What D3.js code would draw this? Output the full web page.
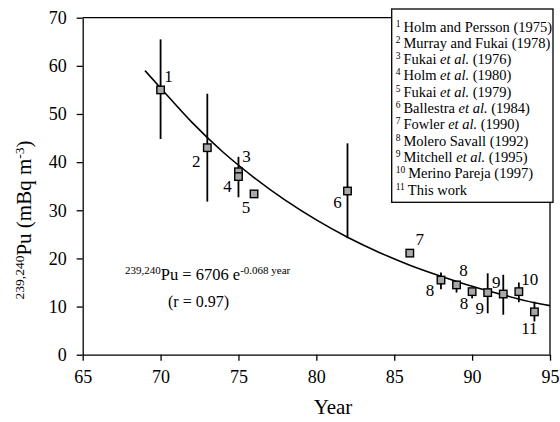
<!DOCTYPE html>
<html>
<head>
<meta charset="utf-8">
<script src="https://cdn.jsdelivr.net/npm/d3@7"></script>
<style>
  body { margin: 0; background: #fff; }
  svg text { font-family: "Liberation Serif", "Times New Roman", serif !important; fill: #000; }
</style>
</head>
<body>
<div id="chart"></div>
<script>
// data
var years  = [70, 73, 75, 75, 76, 82, 86, 88, 89, 90, 91, 92, 93, 94];
var values = [55.0, 43.0, 38.0, 37.0, 33.4, 34.0, 21.1, 15.5, 14.5, 13.1, 12.9, 12.6, 13.1, 8.9];
var errHigh = [65.5, 54.2, 41.1, 37.0, null, 43.9, null, 17.1, 15.3, 13.8, 16.9, 16.6, 15.0, 11.0];
var errLow  = [44.8, 31.8, 38.0, 32.7, null, 24.2, null, 13.6, 12.9, 11.7, 8.6, 8.3, 10.9, 6.9];
var refNums = ["1", "2", "3", "4", "5", "6", "7", "8", "8", "8", "9", "9", "10", "11"];

// fitted curve, read at a few years
var fitYears  = [69, 70, 72, 74, 76, 78, 80, 82, 84, 86, 88, 90, 92, 94, 95];
var fitValues = [59.0, 55.4, 48.3, 42.1, 36.8, 32.1, 28.0, 24.4, 21.3, 18.6, 16.3, 14.2, 12.4, 10.8, 10.2];

var xTicks = [65, 70, 75, 80, 85, 90, 95];
var yTicks = [0, 10, 20, 30, 40, 50, 60, 70];

var legendNums = ["1", "2", "3", "4", "5", "6", "7", "8", "9", "10", "11"];
var legendNames = [
  ["Holm and Persson (1975)"],
  ["Murray and Fukai (1978)"],
  ["Fukai ", "et al.", " (1976)"],
  ["Holm ", "et al.", " (1980)"],
  ["Fukai ", "et al.", " (1979)"],
  ["Ballestra ", "et al.", " (1984)"],
  ["Fowler ", "et al.", " (1990)"],
  ["Molero Savall (1992)"],
  ["Mitchell ", "et al.", " (1995)"],
  ["Merino Pareja (1997)"],
  ["This work"]
];

// label placement (pixel offsets from each point)
var labelDx = [8, -11, 8, -11, -8, -10, 10, -11, 7, -8, -8, -7, 11, -5];
var labelDy = [-13, 14, -15, 10, 14, 11, -14, 10, -14, 12, 16, -12, -12, 17];

var serif = "Liberation Serif, Times New Roman, serif";

var margin = {top: 17.7, right: 10, bottom: 67.3, left: 82.7},
    width = 550 - margin.left,
    height = 354.7 - margin.top;

var svg = d3.select("#chart")
  .append("svg")
    .attr("width", 560)
    .attr("height", 422)
    .attr("font-family", serif)
  .append("g")
    .attr("transform", "translate(" + margin.left + "," + margin.top + ")");

var x = d3.scaleLinear().domain([65, 95]).range([0, width]);
var y = d3.scaleLinear().domain([0, 70]).range([height, 0]);

// frame
svg.append("line").attr("x1", 0).attr("x2", width).attr("y1", 0).attr("y2", 0)
  .attr("stroke", "#000").attr("stroke-width", 1.3);
svg.append("line").attr("x1", width).attr("x2", width).attr("y1", 0).attr("y2", height)
  .attr("stroke", "#000").attr("stroke-width", 1.3);

var xAxis = svg.append("g")
  .attr("transform", "translate(0," + height + ")")
  .call(d3.axisBottom(x).tickValues(xTicks).tickSize(6).tickSizeOuter(0).tickPadding(10));
var yAxis = svg.append("g")
  .call(d3.axisLeft(y).tickValues(yTicks).tickSize(6).tickSizeOuter(0).tickPadding(10));

[xAxis, yAxis].forEach(function(a) {
  a.attr("font-family", serif).attr("font-size", 18);
  a.select(".domain").attr("stroke", "#000").attr("stroke-width", 1.3);
  a.selectAll(".tick line").attr("stroke", "#000").attr("stroke-width", 1.3);
  a.selectAll(".tick text").attr("fill", "#000");
});

// axis titles
svg.append("text")
  .attr("x", 333 - margin.left)
  .attr("y", 409 - margin.top)
  .attr("text-anchor", "middle")
  .attr("dominant-baseline", "middle")
  .style("font-size", "21px")
  .text("Year");

var yt = svg.append("text")
  .attr("transform", "translate(" + (31 - margin.left) + "," + (220 - margin.top) + ") rotate(-90)")
  .attr("text-anchor", "middle")
  .style("font-size", "21px");
yt.append("tspan").style("font-size", "13.5px").attr("baseline-shift", "super").text("239,240");
yt.append("tspan").text("Pu (mBq m");
yt.append("tspan").style("font-size", "13.5px").attr("baseline-shift", "super").text("-3");
yt.append("tspan").text(")");

// fitted curve
var fitData = fitYears.map(function(d, i) { return {year: d, v: fitValues[i]}; });
var line = d3.line()
  .x(function(d) { return x(d.year); })
  .y(function(d) { return y(d.v); })
  .curve(d3.curveMonotoneX);
svg.append("path")
  .datum(fitData)
  .attr("d", line)
  .attr("fill", "none")
  .attr("stroke", "#000")
  .attr("stroke-width", 1.6);

var pts = years.map(function(d, i) {
  return {year: d, v: values[i], hi: errHigh[i], lo: errLow[i], lab: refNums[i], dx: labelDx[i], dy: labelDy[i]};
});

// error bars
svg.selectAll("errBars")
  .data(pts.filter(function(d) { return d.hi != null; }))
  .enter()
  .append("line")
    .attr("x1", function(d) { return x(d.year); })
    .attr("x2", function(d) { return x(d.year); })
    .attr("y1", function(d) { return y(d.hi); })
    .attr("y2", function(d) { return y(d.lo); })
    .attr("stroke", "#000")
    .attr("stroke-width", 1.8);

// points
var sq = 7.5;
svg.selectAll("myPoints")
  .data(pts)
  .enter()
  .append("rect")
    .attr("x", function(d) { return x(d.year) - sq / 2; })
    .attr("y", function(d) { return y(d.v) - sq / 2; })
    .attr("width", sq)
    .attr("height", sq)
    .attr("fill", "#a8a8a8")
    .attr("stroke", "#000")
    .attr("stroke-width", 1.4);

// reference numbers
svg.selectAll("myLabels")
  .data(pts)
  .enter()
  .append("text")
    .attr("x", function(d) { return x(d.year) + d.dx; })
    .attr("y", function(d) { return y(d.v) + d.dy; })
    .attr("text-anchor", "middle")
    .attr("dominant-baseline", "central")
    .style("font-size", "17px")
    .text(function(d) { return d.lab; });

// equation
var eq = svg.append("text")
  .attr("x", 125 - margin.left)
  .attr("y", 280 - margin.top)
  .style("font-size", "16.5px");
eq.append("tspan").style("font-size", "11px").attr("baseline-shift", "super").text("239,240");
eq.append("tspan").text("Pu = 6706 e");
eq.append("tspan").style("font-size", "11px").attr("baseline-shift", "super").text("-0.068 year");

svg.append("text")
  .attr("x", 168 - margin.left)
  .attr("y", 307 - margin.top)
  .style("font-size", "16px")
  .text("(r = 0.97)");

// legend box
var lg = svg.append("g").attr("transform", "translate(" + (391.7 - margin.left) + "," + (9 - margin.top) + ")");
lg.append("rect")
  .attr("width", 553 - 391.7)
  .attr("height", 202.3 - 9)
  .attr("fill", "#fff")
  .attr("stroke", "#000")
  .attr("stroke-width", 1.3);

legendNames.forEach(function(parts, i) {
  var t = lg.append("text")
    .attr("x", 4)
    .attr("y", 22.5 + i * 16.3)
    .style("font-size", "14.5px");
  t.append("tspan").style("font-size", "9.5px").attr("baseline-shift", "super").text(legendNums[i]);
  parts.forEach(function(p, j) {
    t.append("tspan")
      .attr("dx", j == 0 ? 3 : 0)
      .style("font-style", p == "et al." ? "italic" : "normal")
      .text(p);
  });
});
</script>
</body>
</html>
